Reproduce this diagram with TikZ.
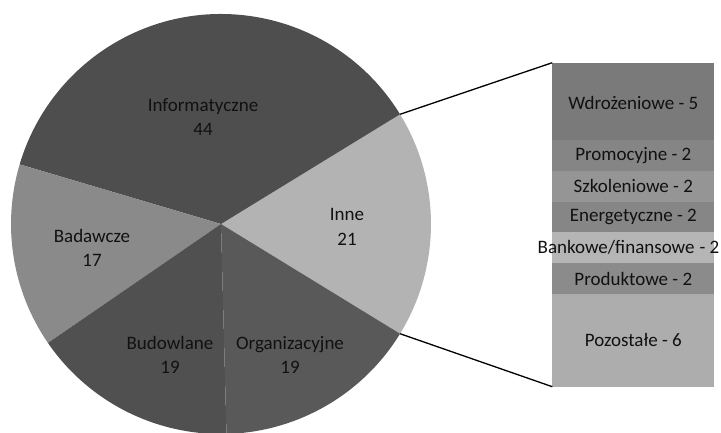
\documentclass[tikz,border=0pt]{standalone}
\usepackage{fontspec}
\setmainfont{Carlito}
\usetikzlibrary{calc}
\definecolor{cInf}{HTML}{4E4E4E}
\definecolor{cInne}{HTML}{B3B3B3}
\definecolor{cBad}{HTML}{8A8A8A}
\definecolor{cBud}{HTML}{505050}
\definecolor{cOrg}{HTML}{595959}
\definecolor{cWdr}{HTML}{7A7A7A}
\definecolor{cPro}{HTML}{858585}
\definecolor{cSzk}{HTML}{959595}
\definecolor{cEne}{HTML}{868686}
\definecolor{cBan}{HTML}{B5B5B5}
\definecolor{cPrd}{HTML}{8B8B8B}
\definecolor{cPoz}{HTML}{ADADAD}
\definecolor{txt}{HTML}{111111}
\begin{document}
\begin{tikzpicture}[x=1pt,y=-1pt,
  lbl/.style={font=\fontsize{19}{24.5}\selectfont, text=txt, align=center, inner sep=0pt},
  seglbl/.style={font=\fontsize{19}{22}\selectfont, text=txt, inner sep=0pt},
  conn/.style={line width=1.3pt, black}]
\useasboundingbox (0,0) rectangle (721,433);
\coordinate (C) at (221,224);
\def\R{210}
% pie slices
\fill[cInne] (C) -- ($(C)+(31.5:\R)$) arc[start angle=31.5, end angle=-31.5, radius=\R] -- cycle;
\fill[cInf] (C) -- ($(C)+(-31.5:\R)$) arc[start angle=-31.5, end angle=-163.5, radius=\R] -- cycle;
\fill[cBad] (C) -- ($(C)+(-163.5:\R)$) arc[start angle=-163.5, end angle=-214.5, radius=\R] -- cycle;
\fill[cBud] (C) -- ($(C)+(-214.5:\R)$) arc[start angle=-214.5, end angle=-271.5, radius=\R] -- cycle;
\fill[cOrg] (C) -- ($(C)+(-271.5:\R)$) arc[start angle=-271.5, end angle=-328.5, radius=\R] -- cycle;
\coordinate (pU) at ($(C)+(-31.5:\R)$);
\coordinate (pL) at ($(C)+(31.5:\R)$);
% pie labels
\node[lbl] (lInf) at (203,117) {Informatyczne\\44};
\node[lbl] (lInne) at (347,227) {Inne\\21};
\node[lbl] (lBad) at (92,248) {Badawcze\\17};
\node[lbl] (lBud) at (170,355) {Budowlane\\19};
\node[lbl] (lOrg) at (290,355) {Organizacyjne\\19};
% bar
\def\xl{552.3}\def\xr{714.3}
\fill[cWdr] (\xl,62.7) rectangle (\xr,139.85);
\fill[cPro] (\xl,139.85) rectangle (\xr,170.7);
\fill[cSzk] (\xl,170.7) rectangle (\xr,201.6);
\fill[cEne] (\xl,201.6) rectangle (\xr,232.4);
\fill[cBan] (\xl,232.4) rectangle (\xr,263.3);
\fill[cPrd] (\xl,263.3) rectangle (\xr,294.1);
\fill[cPoz] (\xl,294.1) rectangle (\xr,386.7);
\coordinate (bTL) at (\xl,62.7);
\coordinate (bBL) at (\xl,386.7);
\node[seglbl] (sWdr) at (633.3,103) {Wdrożeniowe - 5};
\node[seglbl] (sPro) at (633.3,155.3) {Promocyjne - 2};
\node[seglbl] (sSzk) at (633.3,186.1) {Szkoleniowe - 2};
\node[seglbl] (sEne) at (633.3,217) {Energetyczne - 2};
\node[seglbl] (sBan) at (628.5,247.8) {Bankowe/finansowe\hspace{5pt}- 2};
\node[seglbl] (sPrd) at (633.3,278.7) {Produktowe - 2};
\node[seglbl] (sPoz) at (633.3,340.4) {Pozostałe - 6};
% connectors
\draw[conn] (pU) -- (bTL);
\draw[conn] (pL) -- (bBL);
\end{tikzpicture}
\end{document}
